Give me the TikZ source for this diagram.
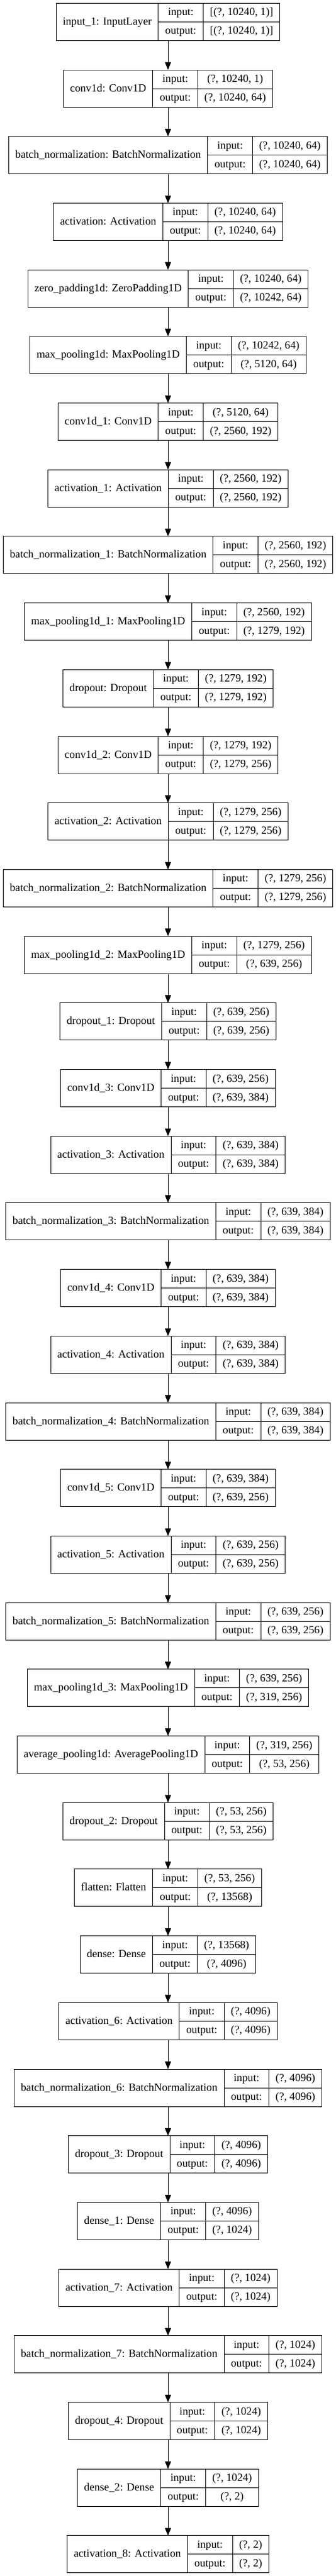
\documentclass[tikz,border=0pt]{standalone}
\usepackage{fontspec}
\setmainfont{Liberation Serif}
\usepackage{tikz}
\usetikzlibrary{arrows.meta}
\newcommand\layerfont{\fontsize{13.65pt}{16pt}\selectfont}
\newlength\wname
\newlength\wval
\newlength\wrow
\newlength\wtot
\newlength\xleft
\newlength\ytop
\tikzset{
	layerbox/.style={
		rectangle,
		inner sep=0pt,
		outer sep=0pt,
		minimum height=46.5pt,
	},
	cellbox/.style={
		rectangle,
		draw=black,
		line width=0.75pt,
		inner sep=0pt,
		outer sep=0pt,
		minimum height=23.25pt,
		font=\layerfont,
		text height=10.9pt,
		text depth=3.4pt,
	},
	namebox/.style={cellbox, minimum height=46.5pt},
	flow/.style={-{Triangle[length=9.5pt,width=7.5pt]}, line width=0.75pt},
}
% widths are measured outside the picture: #1 node name, #3 label, #4/#5 shapes
\newcommand\measurelayer[5]{%
	\settowidth\wname{\layerfont #3}%
	\settowidth\wval{\layerfont #4}\settowidth\wrow{\layerfont #5}%
	\ifdim\wrow>\wval \setlength\wval{\wrow}\fi
	\expandafter\xdef\csname wname@#1\endcsname{\the\dimexpr\wname+16.5pt\relax}%
	\expandafter\xdef\csname wval@#1\endcsname{\the\dimexpr\wval+16.5pt\relax}%
}
% #1 node name, #2 row, #3 layer label, #4 input shape, #5 output shape
\newcommand\drawlayer[5]{%
	\setlength\wname{\csname wname@#1\endcsname}%
	\setlength\wval{\csname wval@#1\endcsname}%
	\setlength\wtot{\dimexpr\wname+56pt+\wval\relax}%
	\setlength\xleft{\dimexpr209.25pt-0.5\wtot\relax}%
	\setlength\ytop{\dimexpr-4pt-83.025pt*#2\relax}%
	\node[layerbox, minimum width=\wtot, anchor=north] (#1) at (209.25pt,\ytop) {};
	\node[namebox, minimum width=\wname, anchor=north west] (#1-name) at (\xleft,\ytop) {#3};
	\node[cellbox, minimum width=56pt, anchor=north west] (#1-inl) at (#1-name.north east) {input:};
	\node[cellbox, minimum width=56pt, anchor=north west] (#1-outl) at (#1-inl.south west) {output:};
	\node[cellbox, minimum width=\wval, anchor=north west] (#1-in) at (#1-inl.north east) {#4};
	\node[cellbox, minimum width=\wval, anchor=north west] (#1-out) at (#1-in.south west) {#5};
}
\newcommand\layerlist{%
	\layer{input1}{0}{input\_1: InputLayer}{[(?, 10240, 1)]}{[(?, 10240, 1)]}%
	\layer{conv1d}{1}{conv1d: Conv1D}{(?, 10240, 1)}{(?, 10240, 64)}%
	\layer{bn}{2}{batch\_normalization: BatchNormalization}{(?, 10240, 64)}{(?, 10240, 64)}%
	\layer{act}{3}{activation: Activation}{(?, 10240, 64)}{(?, 10240, 64)}%
	\layer{zpad}{4}{zero\_padding1d: ZeroPadding1D}{(?, 10240, 64)}{(?, 10242, 64)}%
	\layer{mpool}{5}{max\_pooling1d: MaxPooling1D}{(?, 10242, 64)}{(?, 5120, 64)}%
	\layer{conv1d1}{6}{conv1d\_1: Conv1D}{(?, 5120, 64)}{(?, 2560, 192)}%
	\layer{act1}{7}{activation\_1: Activation}{(?, 2560, 192)}{(?, 2560, 192)}%
	\layer{bn1}{8}{batch\_normalization\_1: BatchNormalization}{(?, 2560, 192)}{(?, 2560, 192)}%
	\layer{mpool1}{9}{max\_pooling1d\_1: MaxPooling1D}{(?, 2560, 192)}{(?, 1279, 192)}%
	\layer{drop}{10}{dropout: Dropout}{(?, 1279, 192)}{(?, 1279, 192)}%
	\layer{conv1d2}{11}{conv1d\_2: Conv1D}{(?, 1279, 192)}{(?, 1279, 256)}%
	\layer{act2}{12}{activation\_2: Activation}{(?, 1279, 256)}{(?, 1279, 256)}%
	\layer{bn2}{13}{batch\_normalization\_2: BatchNormalization}{(?, 1279, 256)}{(?, 1279, 256)}%
	\layer{mpool2}{14}{max\_pooling1d\_2: MaxPooling1D}{(?, 1279, 256)}{(?, 639, 256)}%
	\layer{drop1}{15}{dropout\_1: Dropout}{(?, 639, 256)}{(?, 639, 256)}%
	\layer{conv1d3}{16}{conv1d\_3: Conv1D}{(?, 639, 256)}{(?, 639, 384)}%
	\layer{act3}{17}{activation\_3: Activation}{(?, 639, 384)}{(?, 639, 384)}%
	\layer{bn3}{18}{batch\_normalization\_3: BatchNormalization}{(?, 639, 384)}{(?, 639, 384)}%
	\layer{conv1d4}{19}{conv1d\_4: Conv1D}{(?, 639, 384)}{(?, 639, 384)}%
	\layer{act4}{20}{activation\_4: Activation}{(?, 639, 384)}{(?, 639, 384)}%
	\layer{bn4}{21}{batch\_normalization\_4: BatchNormalization}{(?, 639, 384)}{(?, 639, 384)}%
	\layer{conv1d5}{22}{conv1d\_5: Conv1D}{(?, 639, 384)}{(?, 639, 256)}%
	\layer{act5}{23}{activation\_5: Activation}{(?, 639, 256)}{(?, 639, 256)}%
	\layer{bn5}{24}{batch\_normalization\_5: BatchNormalization}{(?, 639, 256)}{(?, 639, 256)}%
	\layer{mpool3}{25}{max\_pooling1d\_3: MaxPooling1D}{(?, 639, 256)}{(?, 319, 256)}%
	\layer{avgpool}{26}{average\_pooling1d: AveragePooling1D}{(?, 319, 256)}{(?, 53, 256)}%
	\layer{drop2}{27}{dropout\_2: Dropout}{(?, 53, 256)}{(?, 53, 256)}%
	\layer{flat}{28}{flatten: Flatten}{(?, 53, 256)}{(?, 13568)}%
	\layer{dense}{29}{dense: Dense}{(?, 13568)}{(?, 4096)}%
	\layer{act6}{30}{activation\_6: Activation}{(?, 4096)}{(?, 4096)}%
	\layer{bn6}{31}{batch\_normalization\_6: BatchNormalization}{(?, 4096)}{(?, 4096)}%
	\layer{drop3}{32}{dropout\_3: Dropout}{(?, 4096)}{(?, 4096)}%
	\layer{dense1}{33}{dense\_1: Dense}{(?, 4096)}{(?, 1024)}%
	\layer{act7}{34}{activation\_7: Activation}{(?, 1024)}{(?, 1024)}%
	\layer{bn7}{35}{batch\_normalization\_7: BatchNormalization}{(?, 1024)}{(?, 1024)}%
	\layer{drop4}{36}{dropout\_4: Dropout}{(?, 1024)}{(?, 1024)}%
	\layer{dense2}{37}{dense\_2: Dense}{(?, 1024)}{(?, 2)}%
	\layer{act8}{38}{activation\_8: Activation}{(?, 2)}{(?, 2)}%
}
\begin{document}
\let\layer\measurelayer
\layerlist
\begin{tikzpicture}
    \fill[white] (0pt,0pt) rectangle (417.75pt,-3209.25pt);
    \useasboundingbox (0pt,0pt) rectangle (417.75pt,-3209.25pt);

    \let\layer\drawlayer
    \layerlist

    \foreach \n [remember=\n as \m (initially input1)] in {conv1d, bn, act, zpad, mpool,
        conv1d1, act1, bn1, mpool1, drop, conv1d2, act2, bn2, mpool2, drop1,
        conv1d3, act3, bn3, conv1d4, act4, bn4, conv1d5, act5, bn5, mpool3,
        avgpool, drop2, flat, dense, act6, bn6, drop3, dense1, act7, bn7,
        drop4, dense2, act8}
        \draw[flow] (\m.south) -- (\n.north);
\end{tikzpicture}
\end{document}
